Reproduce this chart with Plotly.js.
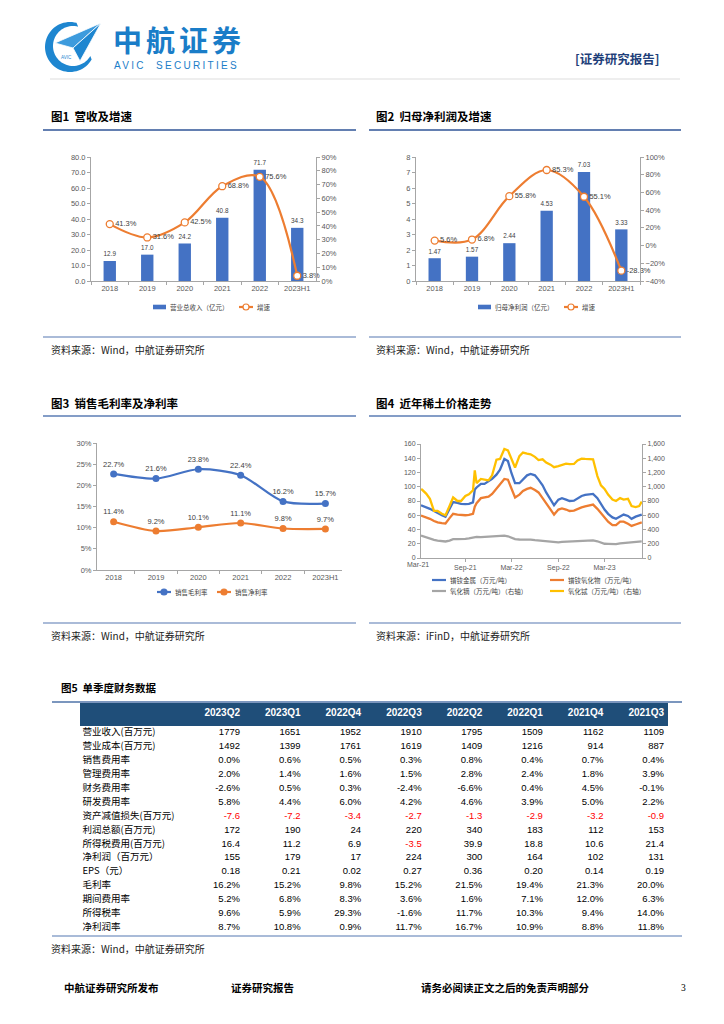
<!DOCTYPE html>
<html><head><meta charset="utf-8">
<script src="https://cdn.plot.ly/plotly-3.0.1.min.js"></script>
<style>html,body{margin:0;padding:0;background:#fff}#page{width:724px;height:1024px}</style>
</head><body><div id="page"></div>
<script>
// ---------- DATA ----------
const years = ['2018','2019','2020','2021','2022','2023H1'];
const revenue = [12.9,17.0,24.2,40.8,71.7,34.3];
const revenueGrowth = [41.3,31.6,42.5,68.8,75.6,3.8];
const netProfit = [1.47,1.57,2.44,4.53,7.03,3.33];
const netProfitGrowth = [5.6,6.8,55.8,85.3,55.1,-28.3];
const grossMargin = [22.7,21.6,23.8,22.4,16.2,15.7];
const netMargin = [11.4,9.2,10.1,11.1,9.8,9.7];

const priceDates = ['2021-03-11','2021-03-15','2021-04-01','2021-04-15','2021-05-01','2021-05-15','2021-06-01','2021-06-15','2021-07-01','2021-07-15','2021-08-01','2021-08-15','2021-09-01','2021-09-15','2021-10-01','2021-10-08','2021-10-15','2021-11-01','2021-11-15','2021-12-01','2021-12-15',
'2022-01-01','2022-01-15','2022-02-01','2022-02-15','2022-03-01','2022-03-15','2022-04-01','2022-04-15','2022-05-01','2022-05-15','2022-06-01','2022-06-15','2022-07-01','2022-07-15','2022-08-01','2022-08-15','2022-09-01','2022-09-15','2022-10-01','2022-10-15','2022-11-01','2022-11-15','2022-12-01','2022-12-15',
'2023-01-01','2023-01-15','2023-02-01','2023-02-15','2023-03-01','2023-03-15','2023-04-01','2023-04-15','2023-05-01','2023-05-15','2023-06-01','2023-06-15','2023-07-01','2023-07-15','2023-07-25'];
const prndMetal = [74,73.5,71,69,66,63,60,58,70,78.5,77.5,76,75.5,76,78,96,99,104,104,108,111,
117,124,139,136,119,105,105,110,116,118,116,110,102,92,81,74,82,84,82,80,80.5,84,87,88.5,
89.5,90,84,76,68,62,57,55,58.5,61,59,55,58,60,61];
const prndOxide = [59.5,59,57,55,52,50,49,48.5,56,62,61,60.5,60,60.5,62,72,77,84,85,86,90,
97,103,111,110,97,85,89,94,97,98.5,95.5,92,84,77,69,61,68,69.5,68,66,66.5,69,71,72.5,
73.5,75,69,63,57,51,46,46,51,51,48,45,47,48.5,50];
const dyOxide = [315,310,290,270,255,245,240,232,245,265,265,262,268,275,285,292,295,293,296,296,298,
305,310,315,305,290,265,260,262,258,257,250,245,238,233,226,222,220,225,228,228,230,238,242,248,
248,246,235,215,200,198,192,195,205,210,215,220,225,228,232];
const tbOxide = [965,960,900,830,660,660,620,600,730,850,800,800,870,895,950,1230,1050,1110,1100,1090,1160,
1380,1390,1530,1510,1390,1270,1430,1480,1465,1455,1420,1375,1385,1340,1310,1275,1290,1305,1325,1318,1320,1370,1395,1390,
1390,1385,1150,1020,970,890,820,800,840,820,830,730,715,730,790];

const quarters = ['2023Q2','2023Q1','2022Q4','2022Q3','2022Q2','2022Q1','2021Q4','2021Q3'];
const rowLabels = ['营业收入(百万元)','营业成本(百万元)','销售费用率','管理费用率','财务费用率','研发费用率','资产减值损失(百万元)','利润总额(百万元)','所得税费用(百万元)','净利润（百万元）','EPS（元）','毛利率','期间费用率','所得税率','净利润率'];
const rowIsPct = [false,false,true,true,true,true,false,false,false,false,false,true,true,true,true];
const rowDecimals = [0,0,1,1,1,1,1,0,1,0,2,1,1,1,1];
const revenueQ = [1779,1651,1952,1910,1795,1509,1162,1109];
const costQ = [1492,1399,1761,1619,1409,1216,914,887];
const sellExpRate = [0.0,0.6,0.5,0.3,0.8,0.4,0.7,0.4];
const adminExpRate = [2.0,1.4,1.6,1.5,2.8,2.4,1.8,3.9];
const finExpRate = [-2.6,0.5,0.3,-2.4,-6.6,0.4,4.5,-0.1];
const rdExpRate = [5.8,4.4,6.0,4.2,4.6,3.9,5.0,2.2];
const impairmentQ = [-7.6,-7.2,-3.4,-2.7,-1.3,-2.9,-3.2,-0.9];
const totalProfitQ = [172,190,24,220,340,183,112,153];
const incomeTaxQ = [16.4,11.2,6.9,-3.5,39.9,18.8,10.6,21.4];
const netProfitQ = [155,179,17,224,300,164,102,131];
const epsQ = [0.18,0.21,0.02,0.27,0.36,0.20,0.14,0.19];
const grossMarginQ = [16.2,15.2,9.8,15.2,21.5,19.4,21.3,20.0];
const periodExpRate = [5.2,6.8,8.3,3.6,1.6,7.1,12.0,6.3];
const taxRate = [9.6,5.9,29.3,-1.6,11.7,10.3,9.4,14.0];
const netMarginQ = [8.7,10.8,0.9,11.7,16.7,10.9,8.8,11.8];
const tableRows = [revenueQ,costQ,sellExpRate,adminExpRate,finExpRate,rdExpRate,impairmentQ,totalProfitQ,incomeTaxQ,netProfitQ,epsQ,grossMarginQ,periodExpRate,taxRate,netMarginQ];

// ---------- HELPERS ----------
const W = 724, H = 1024;
const X = v => v / W, Y = v => 1 - v / H;
const CJK = 'Noto Sans CJK SC, sans-serif';
const LAT = 'Liberation Sans, Arial, Noto Sans CJK SC, sans-serif';
const BLUE = '#4472C4', ORANGE = '#ED7D31', GRAY = '#A5A5A5', GOLD = '#FFC000';
const tickFont = {family: LAT, size: 7.5, color: '#595959'};
const axisCol = '#A6A6A6';

function txt(x, y, text, size, opts) {
  opts = opts || {};
  return {xref: 'paper', yref: 'paper', x: X(x), y: Y(y), text: text, showarrow: false,
    xanchor: opts.xa || 'left', yanchor: 'middle', borderpad: 0,
    font: {family: opts.family || CJK, size: size, color: opts.color || '#000', weight: opts.weight || 'normal'}};
}
function hline(x0, x1, y, color, w) {
  return {type: 'line', xref: 'paper', yref: 'paper', x0: X(x0), x1: X(x1), y0: Y(y), y1: Y(y), line: {color: color, width: w}};
}
function rect(x0, x1, y0, y1, color) {
  return {type: 'rect', xref: 'paper', yref: 'paper', x0: X(x0), x1: X(x1), y0: Y(y1), y1: Y(y0), fillcolor: color, line: {width: 0}, layer: 'below'};
}
function circ(cx, cy, r, fill, stroke) {
  return {type: 'circle', xref: 'paper', yref: 'paper', x0: X(cx - r), x1: X(cx + r), y0: Y(cy + r), y1: Y(cy - r), fillcolor: fill, line: {color: stroke, width: 1.2}};
}
function pathFrom(pts) {
  return 'M' + pts.map(p => X(p[0]).toFixed(5) + ',' + Y(p[1]).toFixed(5)).join(' L') + ' Z';
}
function catAxis(domain, anchor) {
  return {domain: domain, anchor: anchor, type: 'category', showline: true, linecolor: axisCol, linewidth: 1,
    ticks: 'outside', ticklen: 3, tickcolor: axisCol, tickson: 'boundaries', tickfont: tickFont,
    showgrid: false, zeroline: false, fixedrange: true};
}
function valAxis(domain, anchor, range, dtick, extra) {
  return Object.assign({domain: domain, anchor: anchor, range: range, dtick: dtick, showline: true, linecolor: axisCol,
    linewidth: 1, ticks: 'outside', ticklen: 3, tickcolor: axisCol, tickfont: tickFont, showgrid: false,
    zeroline: false, fixedrange: true}, extra || {});
}
const pct = a => a.map(v => v.toFixed(1) + '%');

// ---------- TRACES ----------
const traces = [];
// Fig 1
traces.push({type: 'bar', x: years, y: revenue, xaxis: 'x', yaxis: 'y', marker: {color: BLUE},
  text: revenue.map(v => v.toFixed(1)), textposition: 'outside', cliponaxis: false,
  textfont: {family: LAT, size: 7.5, color: '#404040'}, hoverinfo: 'none'});
traces.push({type: 'scatter', mode: 'lines+markers+text', x: years, y: revenueGrowth, xaxis: 'x', yaxis: 'y2',
  line: {color: ORANGE, width: 2.2, shape: 'spline', smoothing: 1}, marker: {size: 7, color: '#fff', line: {color: ORANGE, width: 1.3}},
  text: pct(revenueGrowth), textposition: 'middle right', cliponaxis: false,
  textfont: {family: LAT, size: 7.5, color: '#404040'}, hoverinfo: 'none'});
// Fig 2
traces.push({type: 'bar', x: years, y: netProfit, xaxis: 'x2', yaxis: 'y3', marker: {color: BLUE},
  text: netProfit.map(v => v.toFixed(2)), textposition: 'outside', cliponaxis: false,
  textfont: {family: LAT, size: 7.5, color: '#404040'}, hoverinfo: 'none'});
traces.push({type: 'scatter', mode: 'lines+markers+text', x: years, y: netProfitGrowth, xaxis: 'x2', yaxis: 'y4',
  line: {color: ORANGE, width: 2.2, shape: 'spline', smoothing: 1}, marker: {size: 7, color: '#fff', line: {color: ORANGE, width: 1.3}},
  text: pct(netProfitGrowth), textposition: 'middle right', cliponaxis: false,
  textfont: {family: LAT, size: 7.5, color: '#404040'}, hoverinfo: 'none'});
// Fig 3
[[grossMargin, BLUE], [netMargin, ORANGE]].forEach(([arr, col]) => {
  traces.push({type: 'scatter', mode: 'lines+markers+text', x: years, y: arr, xaxis: 'x3', yaxis: 'y5',
    line: {color: col, width: 2.2, shape: 'spline', smoothing: 0.8}, marker: {size: 7, color: col},
    text: pct(arr), textposition: 'top center', cliponaxis: false,
    textfont: {family: LAT, size: 7.5, color: '#404040'}, hoverinfo: 'none'});
});
// Fig 4
[[prndMetal, BLUE, 'y6'], [prndOxide, ORANGE, 'y6'], [dyOxide, GRAY, 'y7'], [tbOxide, GOLD, 'y7']].forEach(([arr, col, ya]) => {
  traces.push({type: 'scatter', mode: 'lines', x: priceDates, y: arr, xaxis: 'x4', yaxis: ya,
    line: {color: col, width: 2.3}, hoverinfo: 'none'});
});
// Fig 5 table: text cells on a hidden grid (column index x, row index y)
const rowIdx = rowLabels.map((_, i) => i);
traces.push({type: 'scatter', mode: 'text', x: rowLabels.map(() => -1.6), y: rowIdx, text: rowLabels,
  textposition: 'middle right', xaxis: 'x5', yaxis: 'y8', cliponaxis: false, hoverinfo: 'none',
  marker: {size: 1}, textfont: {family: CJK, size: 9.5, color: '#000'}});
traces.push({type: 'scatter', mode: 'text', x: quarters.map((_, i) => i + 1), y: quarters.map(() => -1.37),
  text: quarters.map(q => '<b>' + q + '</b>'), textposition: 'middle left', xaxis: 'x5', yaxis: 'y8',
  cliponaxis: false, hoverinfo: 'none', marker: {size: 1}, textfont: {family: LAT, size: 10, color: '#fff'}});
quarters.forEach((q, ci) => {
  traces.push({type: 'scatter', mode: 'text', x: rowIdx.map(() => ci + 1), y: rowIdx,
    text: tableRows.map((row, ri) => row[ci].toFixed(rowDecimals[ri]) + (rowIsPct[ri] ? '%' : '')),
    textposition: 'middle left', xaxis: 'x5', yaxis: 'y8', cliponaxis: false, hoverinfo: 'none', marker: {size: 1},
    textfont: {family: LAT, size: 9.5, color: tableRows.map((row, ri) => (!rowIsPct[ri] && row[ci] < 0) ? '#FF0000' : '#000')}});
});

// ---------- LAYOUT ----------
const shapes = [], ann = [];
// header
shapes.push(hline(50, 680, 79, '#DDDDDD', 1));
(function () {
  const cx = 70, cy = 47, pts = [];
  for (let a = 75; a <= 330; a += 5) { const r = a * Math.PI / 180; pts.push([cx + 25 * Math.cos(r), cy - 25 * Math.sin(r)]); }
  for (let a = 330; a >= 75; a -= 5) { const r = a * Math.PI / 180; pts.push([cx + 3 + 20 * Math.cos(r), cy - 1 - 20 * Math.sin(r)]); }
  shapes.push({type: 'path', xref: 'paper', yref: 'paper', path: pathFrom(pts), fillcolor: '#1E86D0', line: {width: 0}});
  shapes.push({type: 'path', xref: 'paper', yref: 'paper', path: pathFrom([[101, 23], [55, 43], [73, 48]]), fillcolor: '#3D9BDD', line: {color: '#fff', width: 0.8}});
  shapes.push({type: 'path', xref: 'paper', yref: 'paper', path: pathFrom([[101, 23], [73, 48], [80, 61]]), fillcolor: '#1E86D0', line: {color: '#fff', width: 0.8}});
})();
ann.push(txt(66, 57, 'AVIC', 4.5, {family: LAT, color: '#1E86D0', xa: 'center'}));
ann.push(txt(112, 38.5, '<span style="letter-spacing:4px">中航证券</span>', 29, {color: '#1A7DC8', weight: 'bold'}));
ann.push(txt(113, 65.5, '<span style="letter-spacing:2.3px">AVIC  SECURITIES</span>', 10, {family: LAT, color: '#1A7DC8'}));
ann.push(txt(660, 58, '[证券研究报告]', 12.5, {color: '#1F3F7A', weight: 'bold', xa: 'right'}));

// figure titles / rules / sources
ann.push(txt(50, 116, '图1  营收及增速', 11.5, {weight: 'bold'}));
ann.push(txt(375, 116, '图2  归母净利润及增速', 11.5, {weight: 'bold'}));
ann.push(txt(50, 403, '图3  销售毛利率及净利率', 11.5, {weight: 'bold'}));
ann.push(txt(375, 403, '图4  近年稀土价格走势', 11.5, {weight: 'bold'}));
ann.push(txt(60, 687, '图5  单季度财务数据', 10.5, {weight: 'bold'}));
shapes.push(hline(43, 356, 130, '#2F5597', 1.5));
shapes.push(hline(369, 681, 130, '#2F5597', 1.5));
shapes.push(hline(43, 356, 416, '#5B7DB5', 1.3));
shapes.push(hline(369, 681, 416, '#5B7DB5', 1.3));
shapes.push(hline(43, 356, 337, '#8EA5CB', 1.6));
shapes.push(hline(369, 681, 337, '#8EA5CB', 1.6));
shapes.push(hline(43, 356, 623, '#8EA5CB', 1.6));
shapes.push(hline(369, 681, 623, '#8EA5CB', 1.6));
shapes.push(hline(52, 682, 702, '#4F73A8', 1.3));
shapes.push(hline(52, 682, 936, '#A9BBD8', 2));
shapes.push(rect(80, 668, 703, 726, '#1F4E79'));
ann.push(txt(50, 349, '资料来源：Wind，中航证券研究所', 10, {color: '#222'}));
ann.push(txt(375, 349, '资料来源：Wind，中航证券研究所', 10, {color: '#222'}));
ann.push(txt(50, 635, '资料来源：Wind，中航证券研究所', 10, {color: '#222'}));
ann.push(txt(375, 635, '资料来源：iFinD，中航证券研究所', 10, {color: '#222'}));
ann.push(txt(50, 948, '资料来源：Wind，中航证券研究所', 10, {color: '#222'}));

// legends
const legFont = {size: 6.5, color: '#404040'};
function legBar(x, y, label) { shapes.push(rect(x, x + 13, y - 2.3, y + 2.3, BLUE)); ann.push(txt(x + 15.5, y, label, 6.5, legFont)); }
function legLine(x, y, col, label, marker) {
  shapes.push({type: 'line', xref: 'paper', yref: 'paper', x0: X(x), x1: X(x + 14), y0: Y(y), y1: Y(y), line: {color: col, width: 2.2}});
  if (marker === 'open') shapes.push(circ(x + 7, y, 3, '#fff', col));
  if (marker === 'fill') shapes.push(circ(x + 7, y, 3, col, col));
  ann.push(txt(x + 17, y, label, 6.5, legFont));
}
legBar(153, 307, '营业总收入（亿元）'); legLine(239, 307, ORANGE, '增速', 'open');
legBar(478, 307, '归母净利润（亿元）'); legLine(564, 307, ORANGE, '增速', 'open');
legLine(157, 592, BLUE, '销售毛利率', 'fill'); legLine(217, 592, ORANGE, '销售净利率', 'fill');
legLine(432, 580, BLUE, '镨钕金属（万元/吨）'); legLine(550, 580, ORANGE, '镨钕氧化物（万元/吨）');
legLine(432, 591, GRAY, '氧化镝（万元/吨）（右轴）'); legLine(550, 591, GOLD, '氧化铽（万元/吨）（右轴）');
ann.push(txt(418.3, 564.5, 'Mar-21', 7, {family: LAT, color: '#595959', xa: 'center'}));

// footer
ann.push(txt(63, 987, '中航证券研究所发布', 10.5, {weight: 'bold'}));
ann.push(txt(230, 987, '证券研究报告', 10.5, {weight: 'bold'}));
ann.push(txt(420, 987, '请务必阅读正文之后的免责声明部分', 10.5, {weight: 'bold'}));
ann.push(txt(683, 988, '3', 9.5, {family: 'Liberation Serif, serif', xa: 'center'}));

const f4tick = {family: LAT, size: 7, color: '#595959'};
const layout = {
  width: W, height: H, margin: {l: 0, r: 0, t: 0, b: 0, pad: 0}, paper_bgcolor: '#fff', plot_bgcolor: 'rgba(0,0,0,0)',
  showlegend: false, bargap: 0.67, font: {family: LAT},
  xaxis: catAxis([X(91), X(316)], 'y'),
  yaxis: valAxis([Y(281), Y(157)], 'x', [0, 80], 10, {tickformat: '.1f'}),
  yaxis2: valAxis([Y(281), Y(157)], 'x', [0, 90], 10, {overlaying: 'y', side: 'right', ticksuffix: '%'}),
  xaxis2: catAxis([X(416), X(640)], 'y3'),
  yaxis3: valAxis([Y(281), Y(157)], 'x2', [0, 8], 1),
  yaxis4: valAxis([Y(281), Y(157)], 'x2', [-40, 100], 20, {overlaying: 'y3', side: 'right', ticksuffix: '%'}),
  xaxis3: catAxis([X(97), X(342)], 'y5'),
  yaxis5: valAxis([Y(570), Y(443)], 'x3', [0, 30], 5, {ticksuffix: '%'}),
  xaxis4: {domain: [X(421), X(642)], anchor: 'y6', type: 'date', range: ['2021-03-11', '2023-07-26'],
    tick0: '2021-03-01', dtick: 'M6', tickformat: '%b-%y', showline: true, linecolor: axisCol, ticks: 'outside',
    ticklen: 3, tickcolor: axisCol, tickfont: f4tick, showgrid: false, zeroline: false, fixedrange: true},
  yaxis6: valAxis([Y(558), Y(444)], 'x4', [0, 160], 20, {tickfont: f4tick}),
  yaxis7: valAxis([Y(558), Y(444)], 'x4', [0, 1600], 200, {overlaying: 'y6', side: 'right', tickformat: ',d', tickfont: f4tick}),
  xaxis5: {domain: [X(80), X(668)], anchor: 'y8', range: [-1.6416, 8.066], visible: false, fixedrange: true},
  yaxis8: {domain: [Y(936), Y(703)], anchor: 'x5', range: [14.604, -2.158], visible: false, fixedrange: true},
  shapes: shapes, annotations: ann
};

Plotly.newPlot('page', traces, layout, {displayModeBar: false, staticPlot: true});
</script></body></html>
